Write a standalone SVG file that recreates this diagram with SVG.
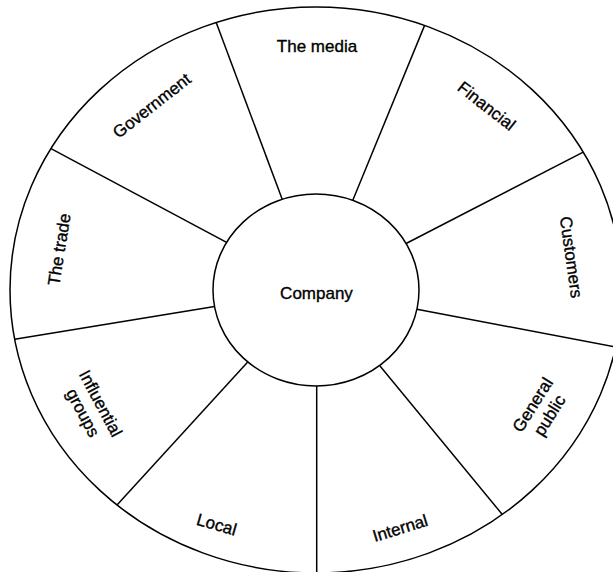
<svg xmlns="http://www.w3.org/2000/svg" width="613" height="572" viewBox="0 0 613 572">
<style>
.ln{stroke:#000;stroke-width:1.5;fill:none}
.lab{font-family:"Liberation Sans",Arial,Helvetica,sans-serif;font-size:17px;fill:#000;stroke:#000;stroke-width:0.35;text-anchor:middle}
</style>
<rect width="613" height="572" fill="#fff"/>
<g id="wheel">
<ellipse class="ln" cx="316" cy="290" rx="306" ry="283" fill="#fff"/>
</g>
<g id="connectors">
<line class="ln" x1="282.2" y1="199.3" x2="216.2" y2="22.5"/>
<line class="ln" x1="352.8" y1="200.3" x2="424.6" y2="25.4"/>
<line class="ln" x1="406.1" y1="243.5" x2="583.2" y2="152.1"/>
<line class="ln" x1="416.9" y1="309.2" x2="615.7" y2="347.1"/>
<line class="ln" x1="380" y1="365.9" x2="502.3" y2="514.5"/>
<line class="ln" x1="316.7" y1="386" x2="316.7" y2="574"/>
<line class="ln" x1="247.5" y1="362.2" x2="117" y2="505"/>
<line class="ln" x1="214.6" y1="306.6" x2="14.7" y2="339.3"/>
<line class="ln" x1="226.6" y1="242.3" x2="51" y2="148.6"/>
</g>
<g id="company">
<ellipse class="ln" cx="316" cy="290" rx="103" ry="96" fill="#fff"/>
<text class="lab" x="316.5" y="299">Company</text>
</g>
<g id="the-media">
<text class="lab" x="317" y="51.5">The media</text>
</g>
<g id="financial">
<text class="lab" transform="translate(486.7,105.8) rotate(38)" y="6">Financial</text>
</g>
<g id="customers">
<text class="lab" transform="translate(571.5,257.2) rotate(82)" y="6">Customers</text>
</g>
<g id="general-public">
<text class="lab" transform="translate(541,410) rotate(-58)"><tspan x="0" y="-4">General</tspan><tspan x="0" y="16">public</tspan></text>
</g>
<g id="internal">
<text class="lab" transform="translate(400,528) rotate(-17)" y="6">Internal</text>
</g>
<g id="local">
<text class="lab" transform="translate(216.7,524.3) rotate(16)" y="6">Local</text>
</g>
<g id="influential-groups">
<text class="lab" transform="translate(92,408) rotate(62)"><tspan x="0" y="-4">Influential</tspan><tspan x="0" y="16">groups</tspan></text>
</g>
<g id="the-trade">
<text class="lab" transform="translate(59,249.5) rotate(-81)" y="6">The trade</text>
</g>
<g id="government">
<text class="lab" transform="translate(151.7,105.4) rotate(-38)" y="6">Government</text>
</g>
</svg>
